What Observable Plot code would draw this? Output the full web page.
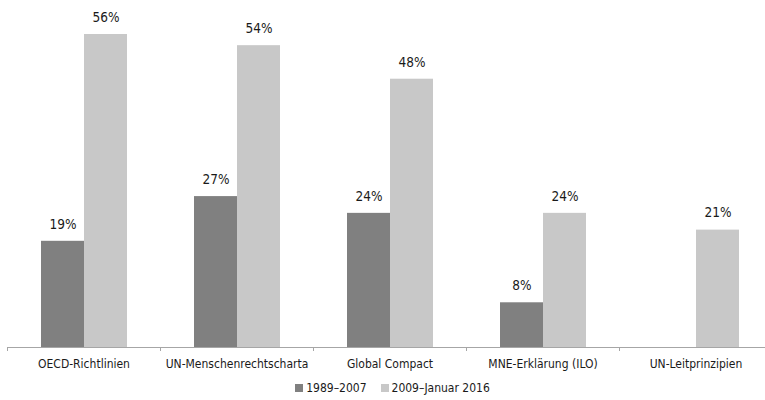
<!DOCTYPE html>
<html>
<head>
<meta charset="utf-8">
<script src="https://cdn.jsdelivr.net/npm/d3@7"></script>
<script src="https://cdn.jsdelivr.net/npm/@observablehq/plot@0.6"></script>
<style>
  body { margin: 0; background: #fff; font-family: "DejaVu Sans Condensed", "Liberation Sans Narrow", sans-serif; }
  #legend { display: flex; justify-content: center; align-items: center; gap: 14px; font-size: 12px; color: #1a1a1a; padding-left: 20px; height: 20px; }
  #legend .item { display: flex; align-items: center; gap: 3px; }
  #legend .sw { width: 8px; height: 8px; display: inline-block; }
</style>
</head>
<body>
<div id="chart"></div>
<div id="legend"></div>
<script>
const categories = ["OECD-Richtlinien", "UN-Menschenrechtscharta", "Global Compact", "MNE-Erklärung (ILO)", "UN-Leitprinzipien"];
const series = ["1989–2007", "2009–Januar 2016"];
const values1989 = [19, 27, 24, 8, null];
const values2009 = [56, 54, 48, 24, 21];
const colors = ["#808080", "#c8c8c8"];

const data = categories.flatMap((c, i) => [
  {cat: c, series: series[0], value: values1989[i]},
  {cat: c, series: series[1], value: values2009[i]}
]).filter(d => d.value != null);

const W = 765, H = 378, mL = 7, mR = -7;
const step = (W - mL - mR) / categories.length;
const font = "'DejaVu Sans Condensed', 'Liberation Sans Narrow', sans-serif";

const chart = Plot.plot({
  width: W, height: H,
  marginLeft: mL, marginRight: mR, marginTop: 34, marginBottom: 31,
  style: {fontFamily: font, background: "#fff", overflow: "visible"},
  fx: {domain: categories, paddingInner: 0, paddingOuter: 0, label: null, axis: null},
  x: {domain: series, paddingInner: 0, paddingOuter: 0.76, axis: null},
  y: {domain: [0, 56], axis: null},
  color: {domain: series, range: colors},
  marks: [
    Plot.barY(data, {fx: "cat", x: "series", y: "value", fill: "series"}),
    Plot.text(data, {fx: "cat", x: "series", y: "value", text: d => d.value + "%", dy: -17, fontSize: 13.5, fill: "#1a1a1a"}),
    Plot.ruleY([0], {stroke: "#a6a6a6"}),
    Plot.axisFx({anchor: "bottom", tickSize: 0, tickPadding: 12, fontSize: 12, fill: "#1a1a1a", label: null}),
    Plot.axisFx({anchor: "bottom", tickSize: 4, text: null, dx: -step / 2, stroke: "#a6a6a6", label: null})
  ]
});
document.getElementById("chart").appendChild(chart);

const legend = d3.select("#legend");
series.forEach((s, i) => {
  const it = legend.append("div").attr("class", "item");
  it.append("span").attr("class", "sw").style("background", colors[i]);
  it.append("span").text(s);
});
</script>
</body>
</html>
